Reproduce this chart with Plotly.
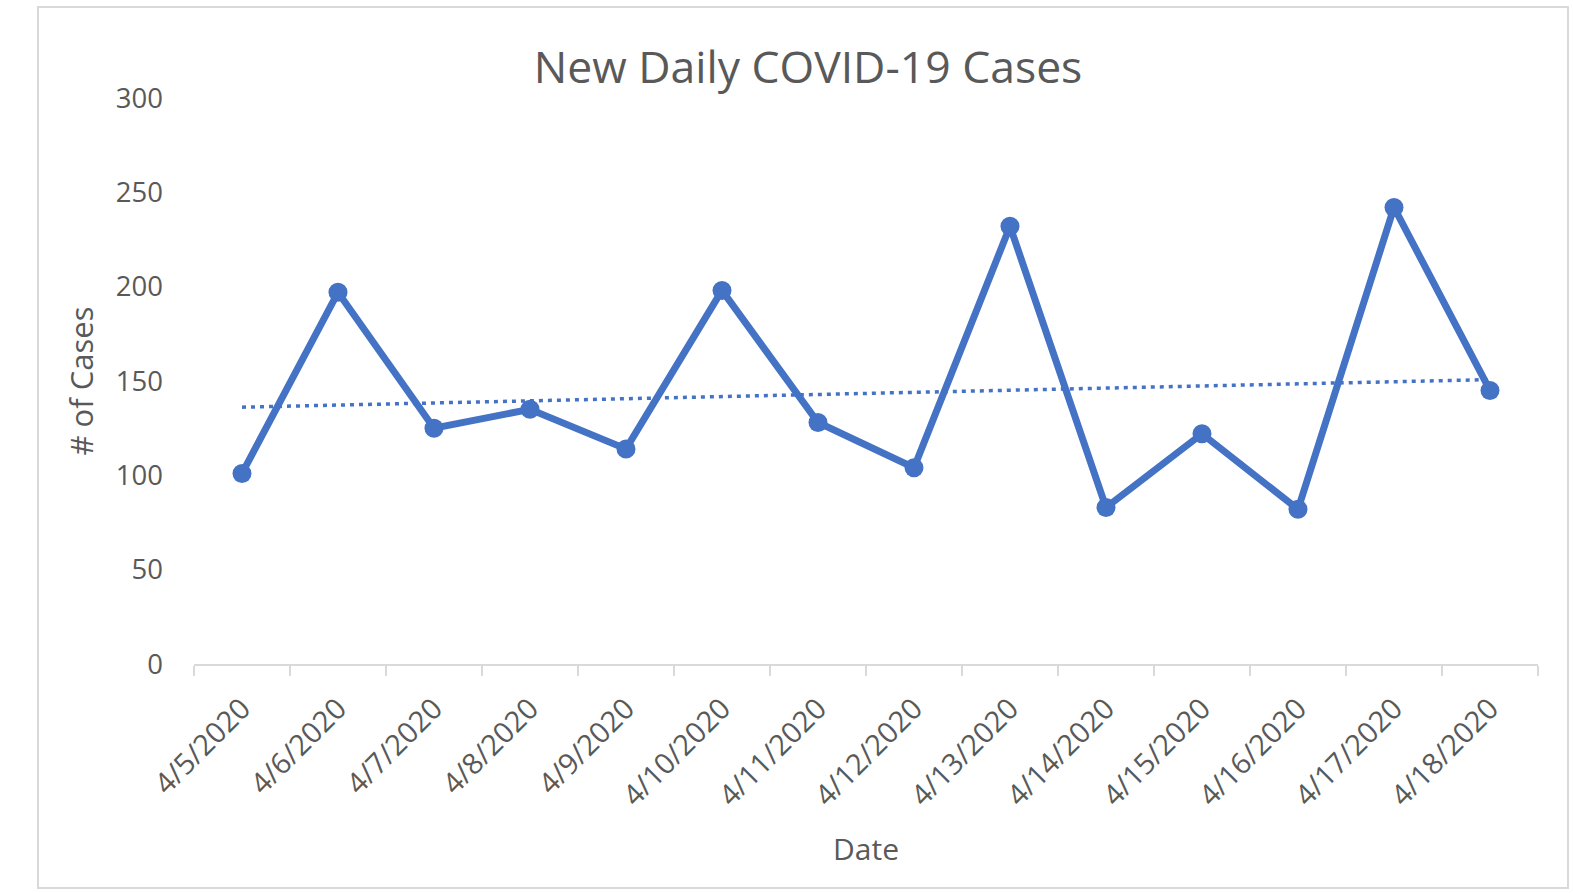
import numpy as np
import plotly.graph_objects as go

dates = ["4/5/2020", "4/6/2020", "4/7/2020", "4/8/2020", "4/9/2020", "4/10/2020",
         "4/11/2020", "4/12/2020", "4/13/2020", "4/14/2020", "4/15/2020", "4/16/2020",
         "4/17/2020", "4/18/2020"]
cases = [101, 197, 125, 135, 114, 198, 128, 104, 232, 83, 122, 82, 242, 145]
y_ticks = [0, 50, 100, 150, 200, 250, 300]

# linear trendline (as Excel computes it)
idx = np.arange(len(cases))
slope, intercept = np.polyfit(idx, cases, 1)
trend = slope * idx + intercept

BLUE = "#4472C4"
GREY_TXT = "#595959"
FONT = "Open Sans"

W, H = 1573, 893
L, R, T, B = 194, 35, 98, 229

fig = go.Figure()
fig.add_trace(go.Scatter(
    x=dates, y=cases, mode="lines+markers",
    line=dict(color=BLUE, width=7),
    marker=dict(color=BLUE, size=19),
    showlegend=False,
))
fig.add_trace(go.Scatter(
    x=dates, y=trend, mode="lines",
    line=dict(color=BLUE, width=3.5, dash="4px,5px"),
    showlegend=False,
))

pw = W - L - R
ph = H - T - B
def px_x(p):
    return (p - L) / pw
def px_y(p):
    return (H - B - p) / ph

fig.add_shape(type="rect", xref="paper", yref="paper",
              x0=px_x(38), x1=px_x(1568), y0=px_y(888), y1=px_y(7),
              line=dict(color="#D9D9D9", width=2), fillcolor="rgba(0,0,0,0)", layer="below")

fig.update_layout(
    width=W, height=H,
    margin=dict(l=L, r=R, t=T, b=B, autoexpand=False),
    paper_bgcolor="white", plot_bgcolor="white",
    font=dict(family=FONT, color=GREY_TXT),
    title=dict(text="New Daily COVID-19 Cases", x=808 / W,
               xanchor="center", y=1 - 67 / H, yanchor="middle",
               font=dict(size=44.5, color=GREY_TXT, family=FONT)),
    xaxis=dict(
        type="category", range=[-0.5, len(dates) - 0.5],
        tickmode="array", tickvals=dates, ticktext=dates,
        tickangle=-45, tickfont=dict(size=29, color=GREY_TXT),
        ticklabelstandoff=14,
        showline=True, linecolor="#D9D9D9", linewidth=2,
        ticks="outside", tickson="boundaries", ticklen=10, tickcolor="#D9D9D9", tickwidth=2,
        showgrid=False, zeroline=False,
        title=dict(text="Date", font=dict(size=30, color=GREY_TXT), standoff=27),
    ),
    yaxis=dict(
        range=[0, 300], tickmode="array", tickvals=y_ticks,
        tickfont=dict(size=27.5, color=GREY_TXT),
        showline=False, showgrid=False, zeroline=False, ticks="",
        ticklabelstandoff=30,
        title=dict(text="# of Cases", font=dict(size=31, color=GREY_TXT), standoff=12),
    ),
)

fig.write_html("out.html", config={"displayModeBar": False},
               post_script="document.body.style.margin='0';document.body.style.overflow='hidden';")
